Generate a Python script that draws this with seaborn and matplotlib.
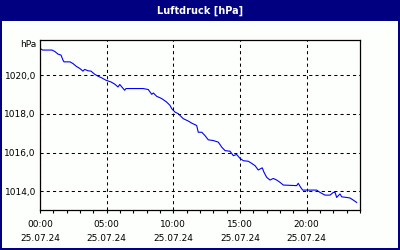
import matplotlib
matplotlib.use("Agg")
import matplotlib.pyplot as plt
import matplotlib.patches as mpatches
from matplotlib.ticker import MultipleLocator, FixedLocator
import seaborn as sns

title = "Luftdruck [hPa]"
unit = "hPa"
hours = [0, 0.2, 0.9, 1.125, 1.35, 1.575, 1.725, 1.8, 2.25, 2.475, 2.7, 3.0, 3.225, 3.35,
         3.6, 3.825, 4.1, 4.35, 4.575, 4.95, 5.325, 5.625, 5.85, 5.98, 6.35, 6.45, 7.725,
         8.12, 8.38, 8.5, 8.75, 9.13, 9.5, 9.75, 9.88, 10.13, 10.37, 10.5, 10.75, 11.12,
         11.38, 11.75, 11.87, 12.13, 12.37, 12.62, 13.0, 13.37, 13.63, 13.88, 14.25, 14.5,
         14.75, 15.0, 15.25, 15.62, 15.88, 16.13, 16.37, 16.67, 16.8, 17.0, 17.25, 17.5,
         17.75, 18.0, 18.25, 19.25, 19.37, 19.55, 19.7, 20.75, 21.0, 21.37, 21.75, 22.0,
         22.13, 22.25, 22.5, 22.63, 23.0, 23.25, 23.5, 23.75]
pressure = [1021.39, 1021.30, 1021.30, 1021.22, 1021.09, 1021.04, 1020.78, 1020.69, 1020.69,
            1020.60, 1020.47, 1020.34, 1020.21, 1020.30, 1020.23, 1020.21, 1020.05, 1019.95,
            1019.88, 1019.74, 1019.65, 1019.53, 1019.39, 1019.52, 1019.22, 1019.31, 1019.31,
            1019.26, 1019.01, 1019.08, 1018.91, 1018.79, 1018.61, 1018.44, 1018.27, 1018.09,
            1018.01, 1017.92, 1017.75, 1017.63, 1017.52, 1017.40, 1017.05, 1017.05, 1016.88,
            1016.66, 1016.62, 1016.54, 1016.28, 1016.10, 1016.07, 1015.84, 1015.90, 1015.70,
            1015.58, 1015.55, 1015.44, 1015.32, 1015.10, 1015.21, 1014.98, 1014.72, 1014.58,
            1014.66, 1014.58, 1014.46, 1014.32, 1014.29, 1014.41, 1014.20, 1014.06, 1014.06,
            1013.94, 1013.80, 1013.80, 1013.94, 1013.94, 1013.68, 1013.86, 1013.71, 1013.68,
            1013.65, 1013.54, 1013.42]
xtick_pos = [0, 5, 10, 15, 20]
xtick_labels = ["00:00\n25.07.24", "05:00\n25.07.24", "10:00\n25.07.24",
                "15:00\n25.07.24", "20:00\n25.07.24"]
ytick_pos = [1014, 1016, 1018, 1020]
ytick_labels = ["1014,0", "1016,0", "1018,0", "1020,0"]

W, H = 400, 250
fig = plt.figure(figsize=(4, 2.5), dpi=100)
navy = "#000080"
fig.patch.set_facecolor(navy)
fig.add_artist(mpatches.Rectangle((2 / W, 2 / H), 396 / W, 227 / H,
                                  transform=fig.transFigure, facecolor="#FDFFFD",
                                  edgecolor="none", zorder=0))
fig.text(0.5, 1 - 10.5 / H, title, color="white", fontsize=7, fontweight="bold",
         ha="center", va="center", family="DejaVu Sans")

ax = fig.add_axes([40 / W, 40 / H, 320 / W, 170 / H])
ax.set_facecolor("none")
sns.lineplot(x=hours, y=pressure, ax=ax, color="#0000FF", linewidth=0.8, sort=False)

ax.set_xlim(0, 24)
ax.set_ylim(1013.03, 1021.82)
ax.xaxis.set_major_locator(FixedLocator(xtick_pos))
ax.set_xticklabels(xtick_labels, fontsize=6.5, linespacing=1.62)
ax.xaxis.set_minor_locator(MultipleLocator(1))
ax.yaxis.set_major_locator(FixedLocator(ytick_pos))
ax.set_yticklabels(ytick_labels, fontsize=6.5)
ax.tick_params(axis="x", which="both", direction="out", length=2.5, width=0.8, pad=5, colors="black")
ax.tick_params(axis="y", which="both", length=0, pad=3, colors="black")
ax.grid(True, which="major", color="black", linestyle=(0, (3, 3)), linewidth=0.75)
for s in ax.spines.values():
    s.set_color("black")
    s.set_linewidth(0.9)
ax.set_xlabel("")
ax.set_ylabel("")
ax.text(-0.012, (210 - 45) / 170, unit, transform=ax.transAxes, ha="right", va="center",
        fontsize=6.5, color="black")

fig.savefig("out.png", dpi=100, facecolor=navy)
